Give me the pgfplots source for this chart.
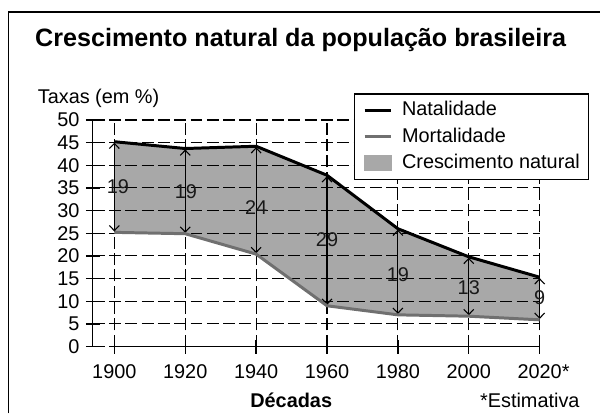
\documentclass[border=0pt]{standalone}
\usepackage{fontspec}
\setmainfont{Liberation Sans}
\usepackage{pgfplots}
\pgfplotsset{compat=1.18}
\usetikzlibrary{arrows.meta}
\definecolor{fillgray}{HTML}{A8A8A8}
\definecolor{mortgray}{HTML}{707070}
\pgfplotsset{
  lineleg/.style={legend image code/.code={\draw[##1] (0bp,0bp) -- (13.3bp,0bp);}},
  rectleg/.style={legend image code/.code={\fill[fillgray] (0bp,-3.9bp) rectangle (13.3bp,3.9bp);}},
}
\begin{document}
\begin{tikzpicture}[font=\fontsize{10bp}{12bp}\selectfont]
% frame
\draw[line width=0.7bp] (4.15bp,-1bp) -- (4.15bp,201bp) -- (302bp,201bp);
% title
\node[anchor=base, font=\fontsize{12.65bp}{15bp}\selectfont\bfseries] at (151.25bp,183.5bp) {Crescimento natural da população brasileira};
\node[anchor=base west] at (15.5bp,155bp) {Taxas (em \%)};
\node[anchor=base, font=\fontsize{10bp}{12bp}\selectfont\bfseries] at (146.5bp,2bp) {Décadas};
\node[anchor=base west] at (238bp,2bp) {*Estimativa};
\begin{axis}[
  set layers,
  at={(46.65bp,32.65bp)}, anchor=south west,
  scale only axis, width=224.85bp, height=114bp,
  xmin=1893.9, xmax=2020, ymin=0, ymax=50,
  clip=false,
  axis lines*=left,
  x axis line style={draw=none},
  axis line style={line width=0.7bp},
  xtick={1900,1920,1940,1960,1980,2000,2020},
  xticklabels={1900,1920,1940,1960,1980,2000,2020\rlap{*}},
  ytick={0,5,...,50},
  tick align=center,
  major tick length=7bp,
  tick style={black, line width=0.7bp},
  grid=major,
  grid style={black, line width=0.55bp, dash pattern=on 6bp off 2.2bp},
  /pgf/number format/assume math mode=true,
  ticklabel style={font=\fontsize{10bp}{12bp}\selectfont, inner sep=0pt},
  yticklabel style={xshift=-3bp},
  xticklabel style={yshift=-5.6bp},
  legend cell align=left,
  legend style={at={(0.5835,1.1171)}, anchor=north west, draw=black, line width=0.6bp,
    inner xsep=4.5bp, inner ysep=3.5bp, row sep=3.75bp, column sep=4.7bp,
    nodes={inner sep=0pt, text height=7.5bp, text depth=2bp},
    font=\fontsize{10bp}{12bp}\selectfont},
]
\addplot[fill=fillgray, draw=none, on layer=axis background, forget plot] coordinates {
 (1900,45.2) (1920,43.7) (1940,44.2) (1960,37.8) (1980,26.0) (2000,19.8) (2020,15.3)
 (2020,5.9) (2000,6.7) (1980,7.0) (1960,9.0) (1940,20.4) (1920,24.9) (1900,25.2)};

\addlegendimage{black, line width=1.6bp, lineleg}
\addlegendentry{Natalidade}
\addlegendimage{mortgray, line width=1.6bp, lineleg}
\addlegendentry{Mortalidade}
\addlegendimage{rectleg}
\addlegendentry{Crescimento natural}

% x axis baseline
\addplot[black, line width=0.7bp, forget plot] coordinates {(1900,0) (2020,0)};

% arrows
\pgfplotsset{arr/.style={black, line width=0.55bp, forget plot,
  {Straight Barb[length=2.6bp,width=5bp]}-{Straight Barb[length=2.6bp,width=5bp]}}}
\addplot[arr] coordinates {(1900,45.0) (1900,25.4)};
\addplot[arr] coordinates {(1920,43.5) (1920,25.1)};
\addplot[arr] coordinates {(1940,44.0) (1940,20.6)};
\addplot[arr] coordinates {(1960,37.6) (1960,9.2)};
\addplot[arr] coordinates {(1980,25.8) (1980,7.2)};
\addplot[arr] coordinates {(2000,19.6) (2000,6.9)};
\addplot[arr] coordinates {(2020,15.1) (2020,6.1)};

% lines
\addplot[mortgray, line width=1.5bp, forget plot] coordinates {
 (1900,25.2) (1920,24.9) (1940,20.4) (1960,9.0) (1980,7.0) (2000,6.7) (2020,5.9)};
\addplot[black, line width=1.5bp, forget plot] coordinates {
 (1900,45.2) (1920,43.7) (1940,44.2) (1960,37.8) (1980,26.0) (2000,19.8) (2020,15.3)};

% labels
\node[text=black!90] at (axis cs:1901,35.2) {19};
\node[text=black!90] at (axis cs:1920.2,34.1) {19};
\node[text=black!90] at (axis cs:1940,30.6) {24};
\node[text=black!90] at (axis cs:1960,23.6) {29};
\node[text=black!90] at (axis cs:1980,15.8) {19};
\node[text=black!90] at (axis cs:2000,13.0) {13};
\node[text=black!90] at (axis cs:2020,10.7) {9};
\end{axis}
\useasboundingbox (0,0) rectangle (300.5bp,207bp);
\end{tikzpicture}
\end{document}
